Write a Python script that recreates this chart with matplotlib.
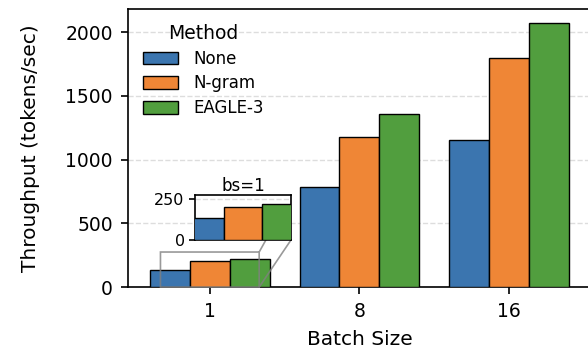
import matplotlib.pyplot as plt
import numpy as np

batch_sizes = ["1", "8", "16"]
methods = ["None", "N-gram", "EAGLE-3"]
none_vals = [135, 784, 1153]
ngram_vals = [201, 1176, 1796]
eagle_vals = [220, 1357, 2071]
colors = ["#3b75af", "#ef8636", "#519e3e"]

series = [none_vals, ngram_vals, eagle_vals]
x = np.arange(len(batch_sizes))
width = 0.8 / 3

fig = plt.figure(figsize=(5.88, 3.48), dpi=100)
ax = fig.add_axes([0.2177, 0.175, 0.787, 0.799])

for i, vals in enumerate(series):
    ax.bar(x + (i - 1) * width, vals, width, color=colors[i],
           edgecolor="black", linewidth=1.0, label=methods[i], zorder=3)

ax.set_xlim(-0.547, 2.547)
ax.set_ylim(0, 2180)
ax.set_xticks(x)
ax.set_xticklabels(batch_sizes)
ax.set_yticks([0, 500, 1000, 1500, 2000])
ax.tick_params(labelsize=13.5, width=1.2, length=5, pad=6)
ax.grid(axis="y", linestyle="--", color="#dddddd", linewidth=1.0, zorder=0)
ax.set_xlabel("Batch Size", fontsize=14.5, labelpad=6)
ax.set_ylabel("Throughput (tokens/sec)", fontsize=14.5, labelpad=18)
for s in ax.spines.values():
    s.set_linewidth(1.2)

leg = ax.legend(loc="upper left", frameon=False, title="Method",
                fontsize=12, title_fontsize=13.5, handlelength=2.1,
                handleheight=0.8, labelspacing=0.4, handletextpad=0.9,
                bbox_to_anchor=(0.0, 1.0))

# inset for bs=1
axins = ax.inset_axes([0.145, 0.169, 0.207, 0.162])
for i, vals in enumerate(series):
    axins.bar(x + (i - 1) * width, vals, width, color=colors[i],
              edgecolor="black", linewidth=1.0, zorder=3)
axins.set_xlim(-0.33, 0.33)
axins.set_ylim(0, 275)
axins.set_xticks([])
axins.set_yticks([0, 250])
axins.tick_params(labelsize=11.5, width=1.2, length=4)
axins.grid(axis="y", linestyle="--", color="#dddddd", linewidth=1.0, zorder=0)
axins.set_title("bs=1", fontsize=12, pad=1)
for s in axins.spines.values():
    s.set_linewidth(1.2)
ax.indicate_inset_zoom(axins, edgecolor="gray", alpha=0.8, linewidth=1.2)

fig.savefig("out.png", dpi=100)
